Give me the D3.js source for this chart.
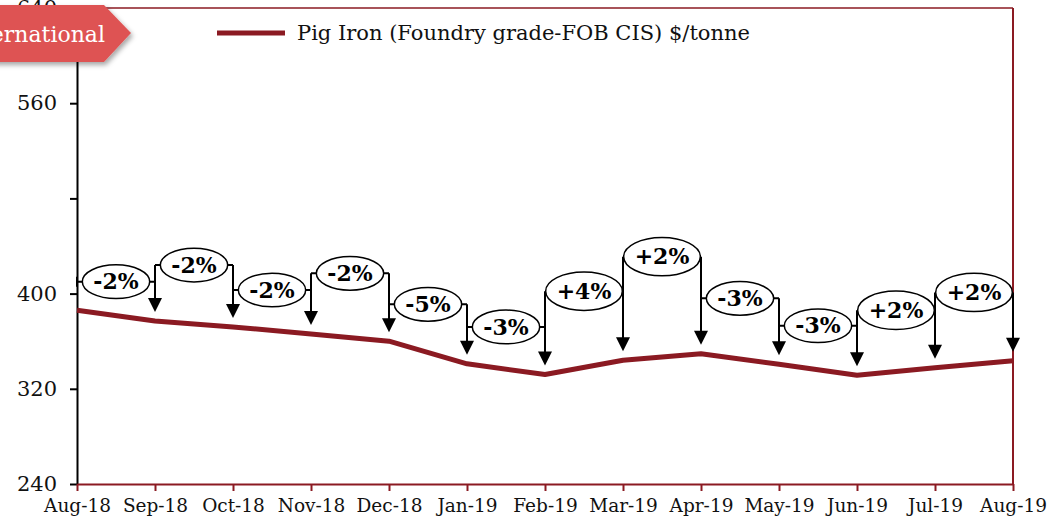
<!DOCTYPE html>
<html>
<head>
<meta charset="utf-8">
<script src="https://cdn.jsdelivr.net/npm/d3@7"></script>
<style>
  html, body { margin: 0; padding: 0; background: #fff; }
  svg { display: block; font-family: "DejaVu Serif", Georgia, serif; }
</style>
</head>
<body>
<div class="chart"></div>
<script>
var months = ['Aug-18', 'Sep-18', 'Oct-18', 'Nov-18', 'Dec-18', 'Jan-19', 'Feb-19',
  'Mar-19', 'Apr-19', 'May-19', 'Jun-19', 'Jul-19', 'Aug-19'];
var pigIron = [386, 377, 372, 366, 360, 341, 332, 344, 349.5, 340.6, 331.4, 337.7, 343.6];
var changeLabels = ['-2%', '-2%', '-2%', '-2%', '-5%', '-3%', '+4%', '+2%', '-3%', '-3%', '+2%', '+2%'];
var yTicks = [240, 320, 400, 480, 560, 640];
var yTickLabels = ['240', '320', '400', '', '560', '640'];
var seriesName = 'Pig Iron (Foundry grade-FOB CIS) $/tonne';

// heights (in $/tonne) where each change bubble sits
var bubbleLevels = [410, 424, 403, 417, 391, 372, 402, 431, 396, 373, 386, 401];

var margin = { top: 8, right: 37, bottom: 39, left: 77 };
var fullWidth = 1050, fullHeight = 523;
var width = fullWidth - margin.left - margin.right;
var height = fullHeight - margin.top - margin.bottom;
var red = '#8b1a22';
var font = '"DejaVu Serif", serif';

var root = d3.select('.chart')
  .append('svg')
  .attr('width', fullWidth)
  .attr('height', fullHeight);

var defs = root.append('defs');
var shadow = defs.append('filter').attr('id', 'shadow')
  .attr('x', '-20%').attr('y', '-20%').attr('width', '150%').attr('height', '160%');
shadow.append('feDropShadow').attr('dx', 2).attr('dy', 3).attr('stdDeviation', 2.5)
  .attr('flood-color', '#000').attr('flood-opacity', 0.35);

var svg = root.append('g')
  .attr('transform', 'translate(' + margin.left + ',' + margin.top + ')');

var xScale = d3.scalePoint().domain(months).range([0, width]);
var yScale = d3.scaleLinear().domain([240, 640]).range([height, 0]);

// plot border (top + right)
svg.append('line').attr('x1', 0).attr('x2', width).attr('y1', 0).attr('y2', 0)
  .attr('stroke', red).attr('stroke-width', 1.5);
svg.append('line').attr('x1', width).attr('x2', width).attr('y1', 0).attr('y2', height)
  .attr('stroke', red).attr('stroke-width', 2);

// y axis
var yAxis = d3.axisLeft(yScale)
  .tickValues(yTicks)
  .tickFormat((d, i) => yTickLabels[i])
  .tickSizeInner(7)
  .tickSizeOuter(0)
  .tickPadding(13);
var gy = svg.append('g').call(yAxis);
gy.select('.domain').attr('stroke', '#000').attr('stroke-width', 2);
gy.selectAll('.tick line').attr('stroke', '#000').attr('stroke-width', 2);
gy.selectAll('text').attr('font-size', 21).attr('font-family', font).attr('fill', '#111');

// x axis
var xAxis = d3.axisBottom(xScale)
  .tickSizeInner(7)
  .tickSizeOuter(0)
  .tickPadding(8);
var gx = svg.append('g')
  .attr('transform', `translate(0, ${height})`)
  .call(xAxis);
gx.select('.domain').attr('stroke', red).attr('stroke-width', 2);
gx.selectAll('.tick line').attr('stroke', red).attr('stroke-width', 2);
gx.selectAll('text').attr('font-size', 18.5).attr('font-family', font).attr('fill', '#111');

// series line
var line = d3.line()
  .x((d, i) => xScale(months[i]))
  .y(d => yScale(d));
svg.append('path')
  .datum(pigIron)
  .attr('fill', 'none')
  .attr('stroke', red)
  .attr('stroke-width', 5)
  .attr('stroke-linejoin', 'round')
  .attr('d', line);

// change annotations
var tipGap = 9, head = 14;
var ann = svg.append('g').attr('class', 'annotations');

changeLabels.forEach(function(label, i) {
  var x0 = xScale(months[i]), x1 = xScale(months[i + 1]);
  var yb = yScale(bubbleLevels[i]);
  var tip1 = yScale(pigIron[i + 1]) - tipGap;
  var tip0 = yScale(pigIron[i]) - tipGap;

  ann.append('line').attr('x1', x0).attr('x2', x1).attr('y1', yb).attr('y2', yb)
    .attr('stroke', '#000').attr('stroke-width', 2);
  ann.append('line').attr('x1', x1).attr('x2', x1).attr('y1', yb).attr('y2', tip1 - head + 1)
    .attr('stroke', '#000').attr('stroke-width', 2);
  if (i === 0) {
    ann.append('line').attr('x1', x0).attr('x2', x0).attr('y1', yb - 5).attr('y2', yb + 5)
      .attr('stroke', '#000').attr('stroke-width', 2);
  } else {
    ann.append('line').attr('x1', x0).attr('x2', x0).attr('y1', yb).attr('y2', tip0 - head + 1)
      .attr('stroke', '#000').attr('stroke-width', 2);
  }
  ann.append('path')
    .attr('d', `M${x1 - 7},${tip1 - head} L${x1 + 7},${tip1 - head} L${x1},${tip1} Z`)
    .attr('fill', '#000');
});

changeLabels.forEach(function(label, i) {
  var cx = (xScale(months[i]) + xScale(months[i + 1])) / 2;
  var yb = yScale(bubbleLevels[i]);
  var g = ann.append('g');
  var el = g.append('ellipse').attr('cx', cx).attr('cy', yb)
    .attr('fill', '#fff').attr('stroke', '#000').attr('stroke-width', 1.5);
  var t = g.append('text').attr('x', cx).attr('y', yb)
    .attr('text-anchor', 'middle').attr('dy', '0.35em')
    .attr('font-size', 22).attr('font-weight', 'bold')
    .attr('font-family', font)
    .text(label);
  var w = t.node().getComputedTextLength();
  var rx = Math.min(w / 2 + 11, 38.5);
  el.attr('rx', rx).attr('ry', rx * 0.5);
});

// legend
var legend = root.append('g').attr('transform', 'translate(217, 33)');
legend.append('line').attr('x1', 0).attr('x2', 68).attr('y1', 0).attr('y2', 0)
  .attr('stroke', red).attr('stroke-width', 5);
legend.append('text').attr('x', 80).attr('y', 0).attr('dy', '0.35em')
  .attr('font-size', 21).attr('font-family', font).attr('fill', '#111')
  .text(seriesName);

// section banner
var banner = root.append('g');
banner.append('path')
  .attr('d', 'M-20,5 L104,5 L131,33 L104,62 L-20,62 Z')
  .attr('fill', '#de5252')
  .attr('filter', 'url(#shadow)');
banner.append('text')
  .attr('x', 105).attr('y', 34).attr('dy', '0.35em')
  .attr('text-anchor', 'end')
  .attr('font-size', 22)
  .attr('font-family', font)
  .attr('fill', '#fff')
  .text('International');
</script>
</body>
</html>
